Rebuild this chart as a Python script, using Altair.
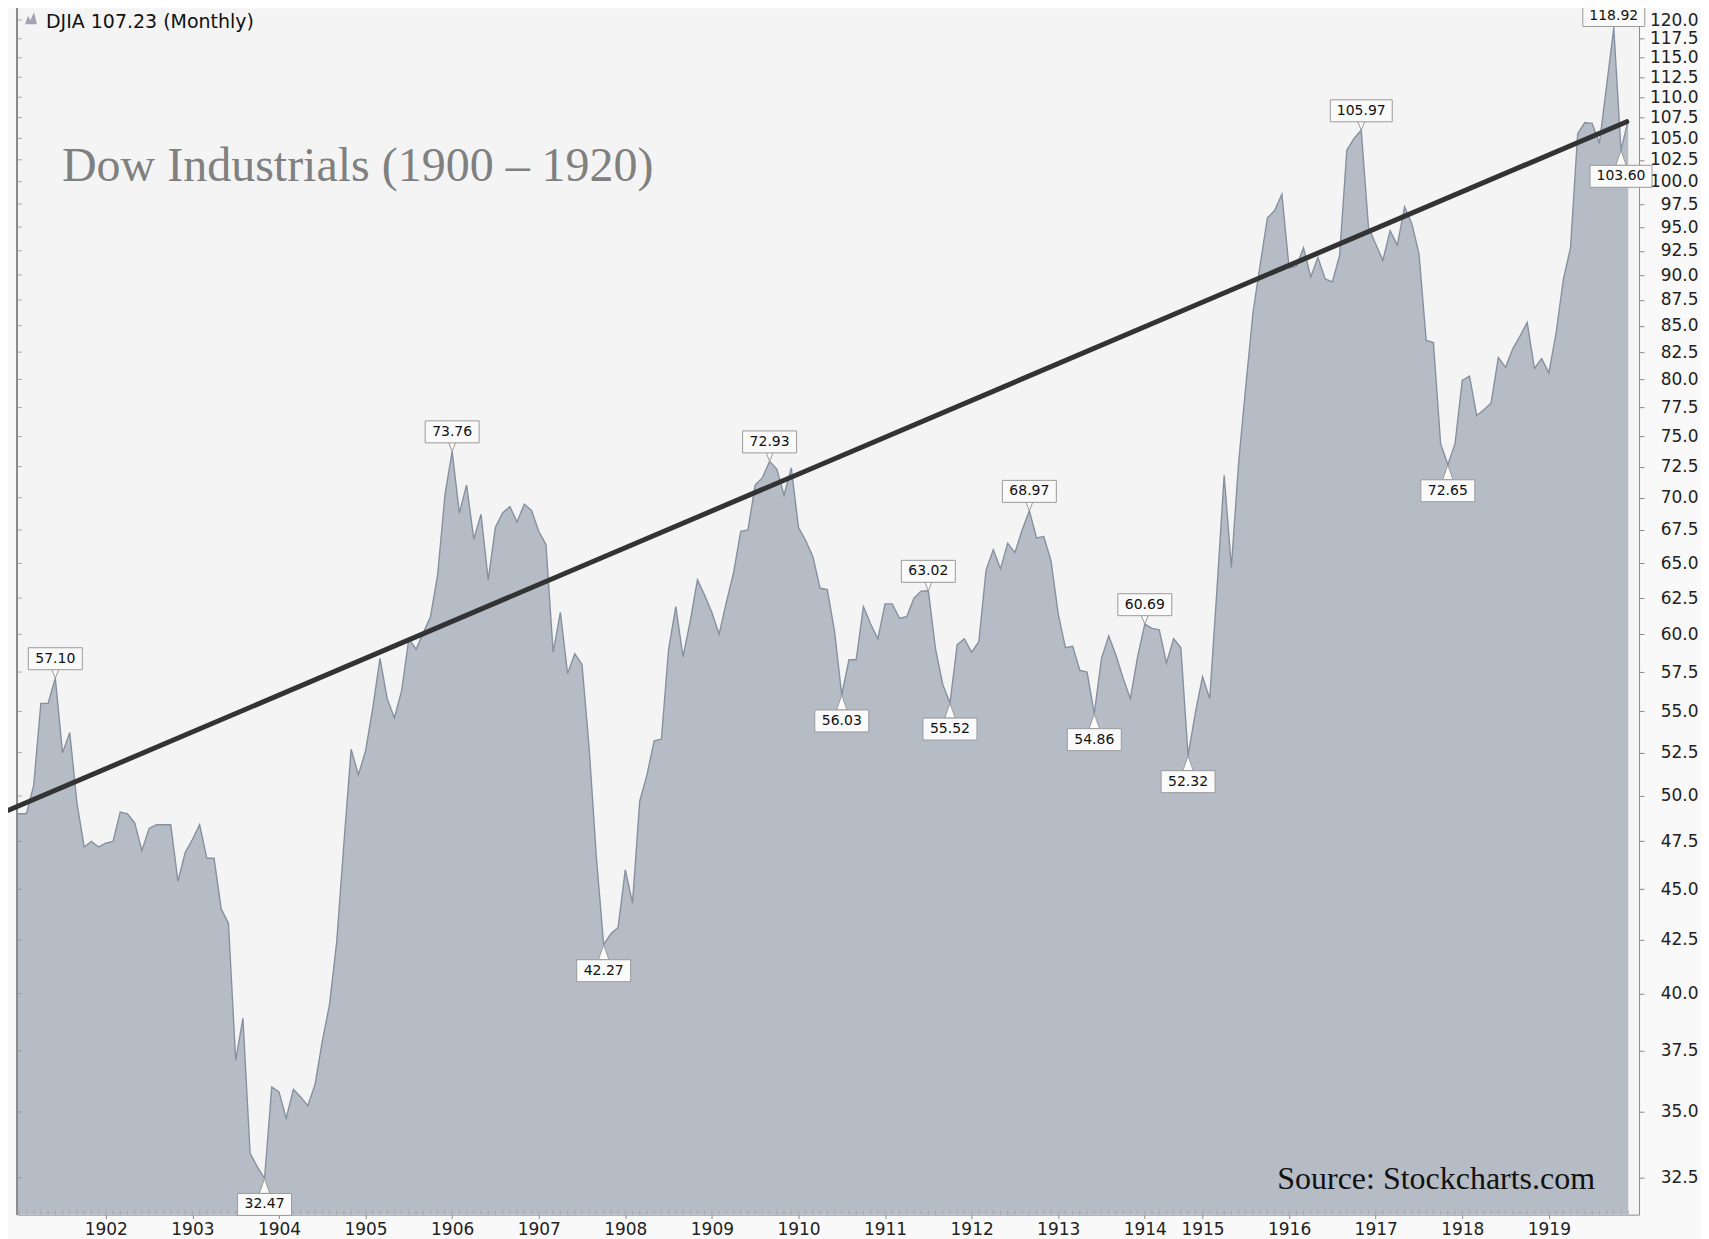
import altair as alt
import pandas as pd

# ---------------- data (monthly closes) ----------------
dec_1900 = [49.0]
dj_1901 = [49.0, 49.0, 50.6, 55.5, 55.5, 57.10, 52.5, 53.7, 49.6, 47.2, 47.5, 47.2]
dj_1902 = [47.4, 47.5, 49.1, 49.0, 48.5, 47.0, 48.2, 48.4, 48.4, 48.4, 45.4, 46.9]
dj_1903 = [47.6, 48.4, 46.6, 46.6, 44.0, 43.3, 37.1, 38.9, 33.4, 32.9, 32.47, 36.0]
dj_1904 = [35.8, 34.75, 35.9, 35.6, 35.25, 36.1, 37.9, 39.5, 42.4, 47.4, 52.7, 51.2]
dj_1905 = [52.6, 55.2, 58.4, 55.8, 54.6, 56.3, 59.7, 59.0, 60.1, 61.2, 64.2, 70.2]
dj_1906 = [73.76, 68.8, 71.0, 66.8, 68.7, 63.8, 67.7, 68.8, 69.3, 68.1, 69.5, 69.0]
dj_1907 = [67.4, 66.4, 58.8, 61.5, 57.4, 58.7, 58.0, 52.7, 46.6, 42.27, 42.8, 43.1]
dj_1908 = [46.0, 44.3, 49.7, 51.2, 53.2, 53.3, 59.0, 61.9, 58.5, 60.9, 63.8, 62.7]
dj_1909 = [61.5, 60.0, 62.2, 64.3, 67.4, 67.5, 71.0, 71.6, 72.93, 72.3, 70.2, 72.4]
dj_1910 = [67.7, 66.7, 65.5, 63.2, 63.1, 60.2, 56.03, 58.3, 58.3, 61.9, 60.7, 59.7]
dj_1911 = [62.1, 62.1, 61.1, 61.2, 62.5, 63.0, 63.02, 59.0, 56.7, 55.52, 59.3, 59.7]
dj_1912 = [58.8, 59.5, 64.5, 66.0, 64.6, 66.5, 65.8, 67.5, 68.97, 66.9, 67.0, 65.2]
dj_1913 = [61.4, 59.1, 59.2, 57.6, 57.5, 54.86, 58.4, 59.9, 58.6, 57.1, 55.8, 58.5]
dj_1914 = [60.69, 60.4, 60.3, 58.1, 59.7, 59.1, 52.32, 54.9]
dj_1915 = [57.2, 55.8, 63.1, 71.8, 64.7, 72.8, 79.4, 86.3, 91.1, 96.0, 96.8, 98.6]
dj_1916 = [90.7, 90.9, 92.8, 89.8, 91.8, 89.6, 89.3, 92.0, 103.6, 105.0, 105.97, 95.0]
dj_1917 = [93.2, 91.5, 94.6, 93.1, 97.2, 95.4, 92.2, 83.6, 83.4, 74.4, 72.65, 74.4]
dj_1918 = [79.9, 80.3, 76.8, 77.3, 77.9, 82.0, 81.1, 82.8, 84.0, 85.3, 81.0, 81.9]
dj_1919 = [80.6, 84.3, 89.5, 92.8, 105.6, 106.9, 106.8, 104.4, 111.4, 118.92, 103.60, 107.23]

all_months = list(range(1, 13))
months_1914 = [1, 2, 3, 4, 5, 6, 7, 12]   # exchange closed Aug-Nov 1914

series = [
    (1900, [12], dec_1900), (1901, all_months, dj_1901), (1902, all_months, dj_1902),
    (1903, all_months, dj_1903), (1904, all_months, dj_1904), (1905, all_months, dj_1905),
    (1906, all_months, dj_1906), (1907, all_months, dj_1907), (1908, all_months, dj_1908),
    (1909, all_months, dj_1909), (1910, all_months, dj_1910), (1911, all_months, dj_1911),
    (1912, all_months, dj_1912), (1913, all_months, dj_1913), (1914, months_1914, dj_1914),
    (1915, all_months, dj_1915), (1916, all_months, dj_1916), (1917, all_months, dj_1917),
    (1918, all_months, dj_1918), (1919, all_months, dj_1919),
]

# annotated highs / lows (position in the monthly series) and where the tag sits
label_idx = [6, 35, 61, 82, 105, 115, 127, 130, 141, 150, 157, 163, 187, 199, 222, 223]
label_side = ["above", "below", "above", "below", "above", "below", "above", "below",
              "above", "below", "above", "below", "above", "below", "above", "below"]

# hand-drawn trend line (series position, value)
trend_idx = [-0.5, 223.8]
trend_val = [49.2, 107.0]

y_ticks = [32.5 + 2.5 * k for k in range(36)]
first_label_year = 1902

# ---------------- tables ----------------
rows = []
for year, months, vals in series:
    for m, v in zip(months, vals):
        rows.append({"year": year, "month": m, "close": v})
df = pd.DataFrame(rows)
df["idx"] = range(len(df))

jan = df[(df["month"] == 1) & (df["year"] >= first_label_year)]
tick_vals = [int(i) for i in jan["idx"]]
expr = "''"
for i, y in reversed(list(zip(jan["idx"], jan["year"]))):
    expr = f"datum.value == {int(i)} ? '{int(y)}' : ({expr})"

lab = df.loc[label_idx, ["idx", "close"]].copy()
lab["side"] = label_side
lab["label"] = [f"{v:.2f}" for v in lab["close"]]

trend = pd.DataFrame({"idx": trend_idx, "close": trend_val})
ticks_df = pd.DataFrame({"close": y_ticks})

# ---------------- layout ----------------
W, H = 1623, 1207
Y_MIN, Y_MAX = 31.17, 121.6
TAG_CAP = 118.0          # keeps the topmost tag inside the drawing
AREA = "#b5bcc6"
EDGE = "#8691a0"
AXC = "#8c8c8c"
FONT = "DejaVu Sans"

xscale = alt.Scale(domain=[0.69, 225.5], nice=False, zero=False)
yscale = alt.Scale(type="log", domain=[Y_MIN, Y_MAX], nice=False)
xaxis = alt.Axis(values=tick_vals, labelExpr=expr, title=None, grid=False,
                 tickSize=4, tickColor=AXC, domainColor=AXC, labelPadding=3,
                 labelFont=FONT, labelFontSize=17, labelColor="#222222",
                 labelOverlap=False, labelFlush=False)
yaxis = alt.Axis(orient="right", values=y_ticks, format=".1f", title=None, grid=False,
                 tickSize=5, tickColor=AXC, domainColor=AXC, labelAlign="right",
                 labelPadding=54, labelFont=FONT, labelFontSize=17,
                 labelColor="#222222", labelOverlap=False)

X = alt.X("idx:Q", scale=xscale, axis=xaxis)
Y = alt.Y("close:Q", scale=yscale, axis=yaxis)

area = alt.Chart(df).transform_calculate(
    base=str(Y_MIN)
).mark_area(
    color=AREA, fill=AREA, opacity=1, clip=True,
    line={"color": EDGE, "strokeWidth": 1.4}
).encode(x=X, y=Y, y2=alt.Y2("base:Q"))

month_ticks = alt.Chart(df).mark_tick(
    orient="vertical", size=4, thickness=1, color="#9a9a9a", clip=True
).encode(x=X, y=alt.value(H - 2))

left_ticks = alt.Chart(ticks_df).mark_tick(
    orient="horizontal", size=5, thickness=1, color=AXC
).encode(y=Y, x=alt.value(2.5))

left_frame = alt.Chart(ticks_df).mark_rule(color=AXC, strokeWidth=1).encode(
    x=alt.value(0), y=alt.value(0), y2=alt.value(H))

base = alt.Chart(lab).transform_calculate(
    ty=f"datum.side == 'above' ? min(datum.close, {TAG_CAP}) : datum.close"
)
TY = alt.Y("ty:Q", scale=yscale, axis=yaxis)
BOX_FILL = "#fafafa"
BOX_STROKE = "#9a9a9a"

ptr_above = base.transform_filter("datum.side == 'above'").mark_point(
    shape="M-0.8,-1L0.8,-1L0,1Z", filled=True, fill=BOX_FILL, stroke=BOX_STROKE,
    strokeWidth=1, size=121, yOffset=-5.5, opacity=1
).encode(x=X, y=Y)
ptr_below = base.transform_filter("datum.side == 'below'").mark_point(
    shape="M-0.7,1L0.7,1L0,-1Z", filled=True, fill=BOX_FILL, stroke=BOX_STROKE,
    strokeWidth=1, size=225, yOffset=7.5, opacity=1
).encode(x=X, y=Y)


def boxes(side, nchar, half):
    if side == "above":
        off = dict(yOffset=-30.5, y2Offset=-8.5)
    else:
        off = dict(yOffset=15, y2Offset=37)
    return base.transform_filter(
        f"datum.side == '{side}' && length(datum.label) == {nchar}"
    ).mark_rect(
        fill=BOX_FILL, stroke=BOX_STROKE, strokeWidth=1,
        xOffset=-half, x2Offset=half, **off
    ).encode(x=X, x2="idx:Q", y=TY, y2="ty:Q")


box_layers = [boxes("above", 5, 27), boxes("above", 6, 31),
              boxes("below", 5, 27), boxes("below", 6, 31)]

txt_above = base.transform_filter("datum.side == 'above'").mark_text(
    font=FONT, fontSize=14, color="#111111", dy=-19.5, baseline="middle"
).encode(x=X, y=TY, text="label:N")
txt_below = base.transform_filter("datum.side == 'below'").mark_text(
    font=FONT, fontSize=14, color="#111111", dy=26, baseline="middle"
).encode(x=X, y=TY, text="label:N")

trend_line = alt.Chart(trend).mark_line(
    color="#333333", strokeWidth=5, strokeCap="round", clip=False
).encode(x=X, y=Y)

ann = pd.DataFrame({"t": ["DJIA 107.23 (Monthly)"]})
icon = alt.Chart(ann).mark_point(
    shape="M-1,1L-0.5,-0.4L-0.1,0.3L0.5,-1L1,1Z", filled=True, color="#a3a3b5",
    size=144, opacity=1, clip=False
).encode(x=alt.value(14), y=alt.value(10))
djia = alt.Chart(ann).mark_text(
    font=FONT, fontSize=19, color="#111111", align="left", baseline="alphabetic"
).encode(text="t:N", x=alt.value(29), y=alt.value(20))

big = alt.Chart(pd.DataFrame({"t": ["Dow Industrials (1900 \u2013 1920)"]})).mark_text(
    font="Liberation Serif", fontSize=48, color="#808080", align="left",
    baseline="alphabetic"
).encode(text="t:N", x=alt.value(45), y=alt.value(173))

src = alt.Chart(pd.DataFrame({"t": ["Source: Stockcharts.com"]})).mark_text(
    font="Liberation Serif", fontSize=32, color="#111111", align="left",
    baseline="alphabetic"
).encode(text="t:N", x=alt.value(1261), y=alt.value(1181))

chart = alt.layer(
    area, month_ticks, left_ticks, left_frame,
    ptr_above, ptr_below, *box_layers, txt_above, txt_below,
    trend_line, icon, djia, big, src
).properties(
    width=W, height=H,
    padding={"left": 9, "top": 0, "right": 62, "bottom": 24},
    autosize=alt.AutoSizeParams(type="none"),
    background="#f9f9f9",
).configure_view(stroke=None, fill="#f4f4f4")

chart.save("out.html", embed_options={"renderer": "svg", "actions": False})
